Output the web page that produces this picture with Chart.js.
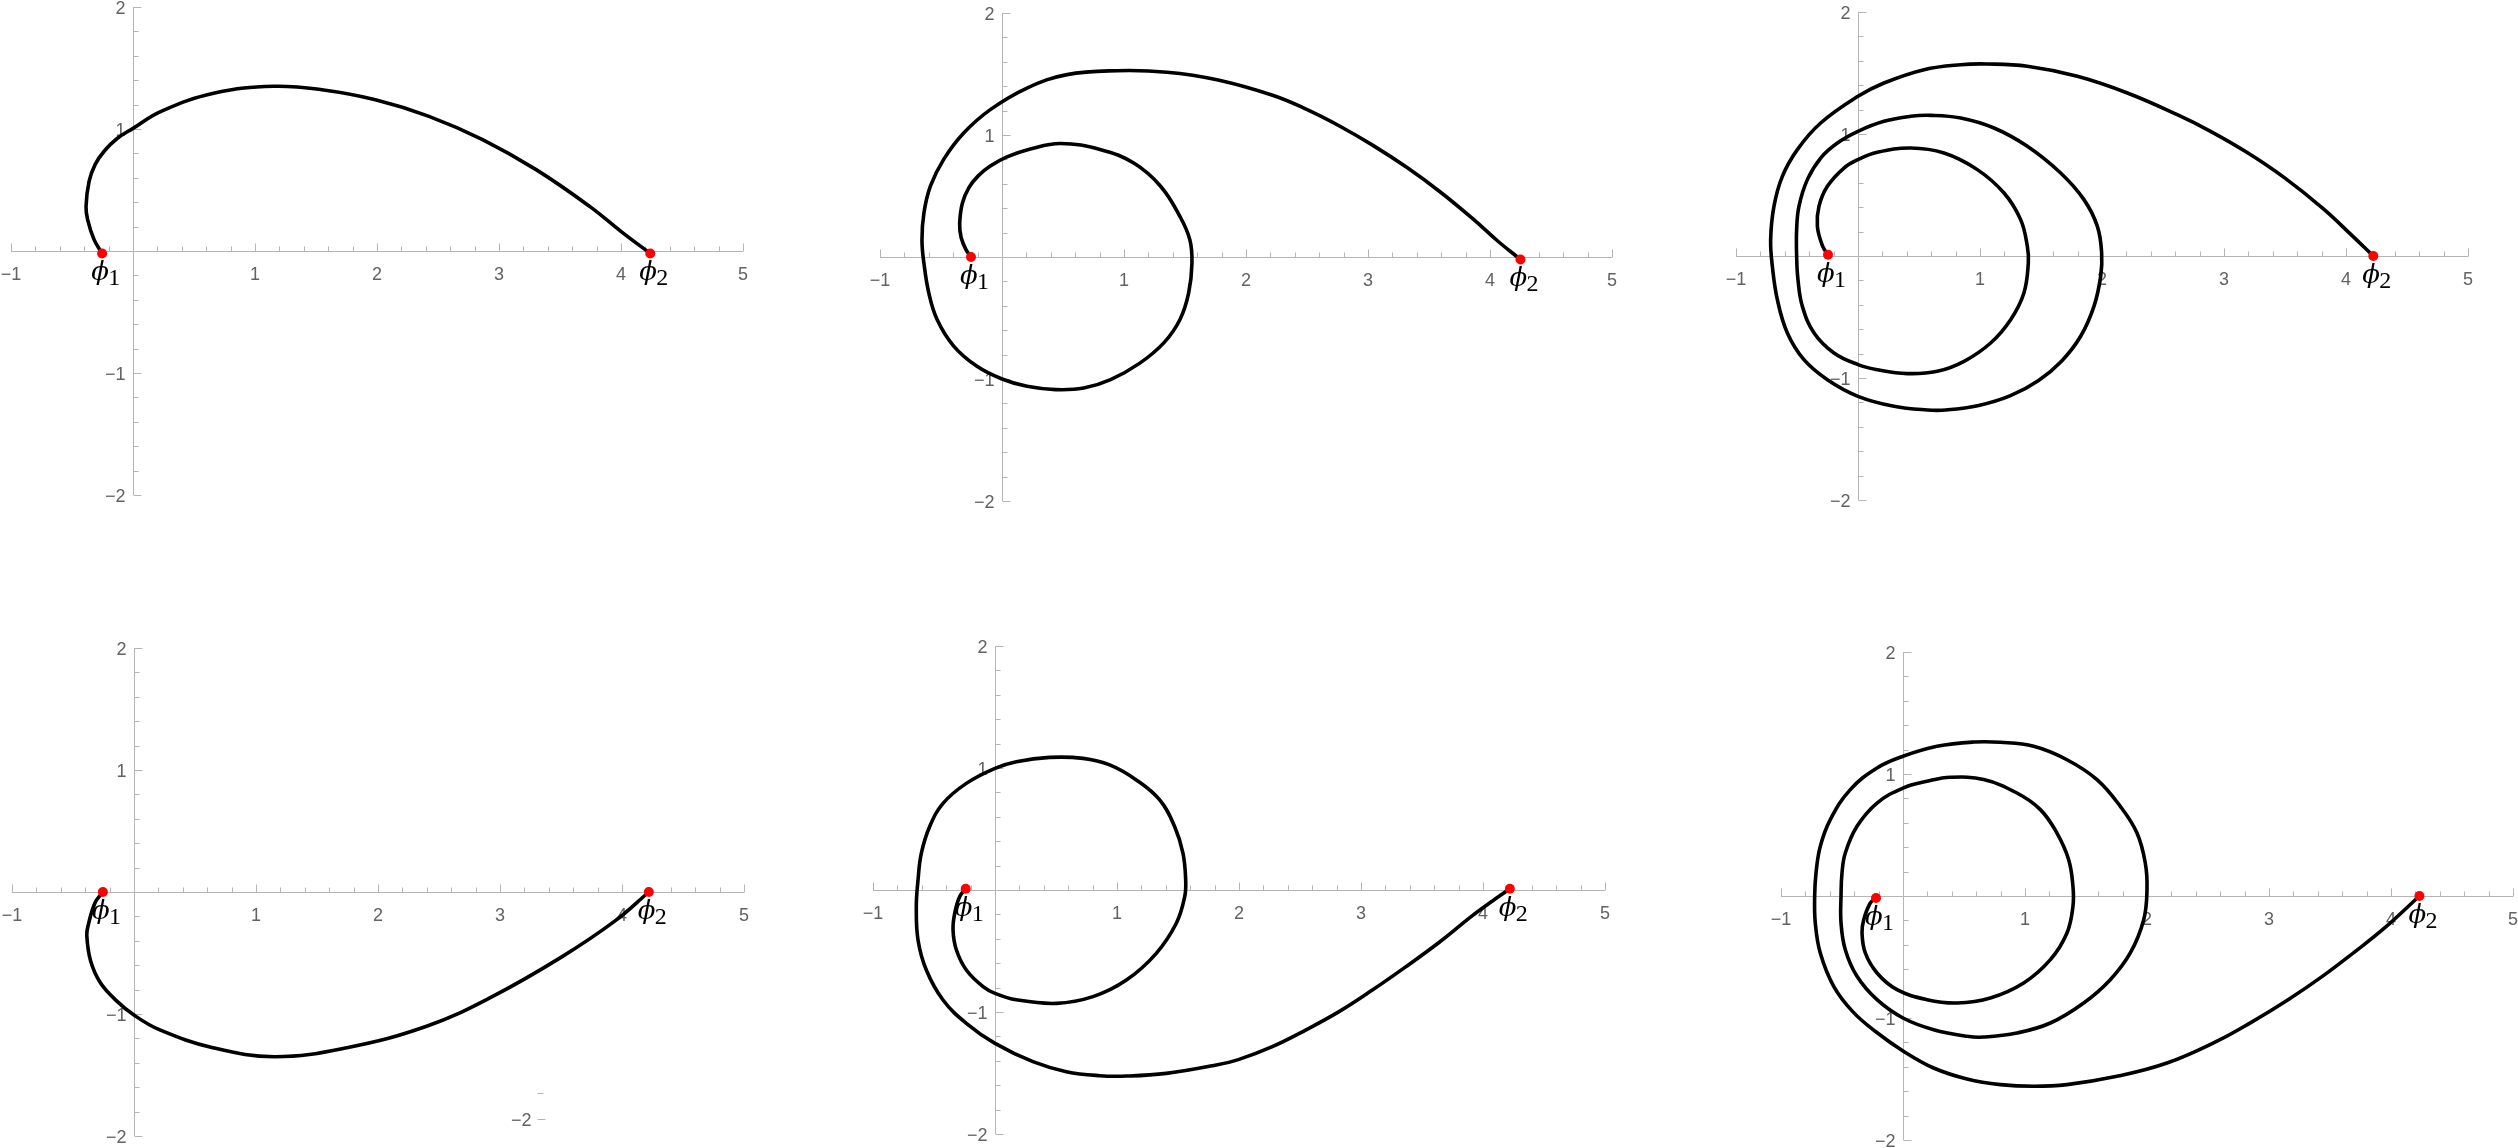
<!DOCTYPE html>
<html>
<head>
<meta charset="utf-8">
<script src="https://cdn.jsdelivr.net/npm/chart.js@4.4.0/dist/chart.umd.min.js"></script>
<style>
  html, body { margin: 0; padding: 0; background: #fff; width: 2518px; height: 1148px; overflow: hidden; position: relative; }
  canvas { position: absolute; }
</style>
</head>
<body>
<script>
// axis ranges and ticks (same in every panel)
const xRange = [-1, 5];
const yRange = [-2, 2];
const xTickValues = [-1, 1, 2, 3, 4, 5];
const xTickLabels = ['\u22121', '1', '2', '3', '4', '5'];
const yTickValues = [-2, -1, 1, 2];
const yTickLabels = ['\u22122', '\u22121', '1', '2'];
const minorStep = 0.2;

// curves, from phi1 to phi2
const p1X = [-0.253, -0.319, -0.372, -0.385, -0.36, -0.31, -0.235, -0.13, 0, 0.23, 0.67, 1.153, 1.548, 1.987, 2.426, 2.865, 3.304, 3.743, 4.007, 4.24];
const p1Y = [-0.02, 0.093, 0.257, 0.366, 0.57, 0.71, 0.82, 0.922, 1.005, 1.145, 1.295, 1.35, 1.322, 1.24, 1.104, 0.913, 0.667, 0.366, 0.155, -0.02];

const p2X = [-0.254, -0.295, -0.335, -0.347, -0.325, -0.27, -0.195, -0.096, 0.041, 0.232, 0.48, 0.81, 1.08, 1.30, 1.46, 1.54, 1.557, 1.53, 1.46, 1.33, 1.13, 0.89, 0.67, 0.44, 0.205, 0, -0.205, -0.396, -0.533, -0.60, -0.64, -0.656, -0.64, -0.587, -0.478, -0.314, -0.096, 0.205, 0.533, 0.943, 1.352, 1.762, 2.224, 2.497, 2.77, 3.044, 3.317, 3.59, 3.863, 4.07, 4.25];
const p2Y = [0, 0.06, 0.16, 0.27, 0.44, 0.57, 0.665, 0.745, 0.82, 0.885, 0.93, 0.88, 0.77, 0.58, 0.33, 0.14, -0.05, -0.295, -0.51, -0.70, -0.87, -1.005, -1.074, -1.087, -1.06, -1.0, -0.896, -0.73, -0.51, -0.295, -0.05, 0.14, 0.36, 0.58, 0.80, 1.016, 1.208, 1.385, 1.495, 1.527, 1.515, 1.453, 1.324, 1.21, 1.072, 0.913, 0.735, 0.535, 0.31, 0.125, -0.02];

const p3X = [-0.246, -0.29, -0.333, -0.32, -0.251, -0.115, 0, 0.158, 0.432, 0.705, 0.978, 1.197, 1.333, 1.388, 1.396, 1.36, 1.251, 1.087, 0.869, 0.65, 0.404, 0.158, 0, -0.197, -0.36, -0.456, -0.492, -0.503, -0.503, -0.484, -0.415, -0.306, -0.169, 0, 0.213, 0.432, 0.596, 0.842, 1.115, 1.388, 1.661, 1.852, 1.962, 1.997, 1.989, 1.934, 1.825, 1.67, 1.48, 1.25, 0.99, 0.72, 0.568, 0.295, 0, -0.251, -0.443, -0.579, -0.661, -0.702, -0.716, -0.689, -0.62, -0.497, -0.306, 0, 0.213, 0.541, 0.842, 1.06, 1.388, 1.798, 2.208, 2.617, 2.89, 3.2, 3.5, 3.815, 4.05, 4.224];
const p3Y = [0.01, 0.08, 0.243, 0.407, 0.571, 0.721, 0.79, 0.85, 0.885, 0.844, 0.708, 0.516, 0.298, 0.08, -0.057, -0.303, -0.522, -0.713, -0.863, -0.945, -0.964, -0.932, -0.89, -0.795, -0.631, -0.413, -0.194, 0, 0.216, 0.407, 0.626, 0.803, 0.926, 1.022, 1.104, 1.145, 1.153, 1.131, 1.049, 0.899, 0.68, 0.462, 0.243, 0.025, -0.167, -0.413, -0.658, -0.86, -1.02, -1.145, -1.225, -1.262, -1.262, -1.232, -1.15, -1.014, -0.85, -0.631, -0.358, -0.085, 0.134, 0.407, 0.653, 0.872, 1.09, 1.309, 1.418, 1.527, 1.568, 1.574, 1.555, 1.473, 1.336, 1.158, 1.022, 0.842, 0.638, 0.386, 0.167, 0];

const p4X = [-0.255, -0.32, -0.374, -0.387, -0.356, -0.277, -0.145, 0, 0.207, 0.646, 1.152, 1.745, 2.404, 2.932, 3.503, 3.943, 4.22];
const p4Y = [0, -0.09, -0.267, -0.356, -0.564, -0.742, -0.89, -1.009, -1.128, -1.276, -1.35, -1.276, -1.098, -0.86, -0.534, -0.237, 0];

const p5X = [-0.24, -0.29, -0.33, -0.344, -0.317, -0.235, -0.098, 0, 0.175, 0.503, 0.803, 1.077, 1.322, 1.486, 1.555, 1.563, 1.541, 1.473, 1.35, 1.158, 0.94, 0.721, 0.448, 0.175, 0, -0.235, -0.426, -0.536, -0.604, -0.631, -0.645, -0.631, -0.563, -0.426, -0.235, 0, 0.311, 0.585, 0.858, 1.077, 1.404, 1.814, 2.0, 2.273, 2.546, 2.82, 3.093, 3.366, 3.639, 3.913, 4.077, 4.22];
const p5Y = [0.01, -0.055, -0.19, -0.328, -0.49, -0.656, -0.792, -0.847, -0.90, -0.929, -0.874, -0.738, -0.519, -0.273, -0.055, 0.082, 0.30, 0.519, 0.738, 0.902, 1.025, 1.079, 1.087, 1.052, 0.997, 0.874, 0.71, 0.519, 0.30, 0.082, -0.137, -0.41, -0.656, -0.902, -1.093, -1.257, -1.407, -1.489, -1.522, -1.525, -1.503, -1.434, -1.388, -1.284, -1.148, -0.997, -0.82, -0.63, -0.43, -0.21, -0.09, 0.01];

const p6X = [-0.221, -0.268, -0.322, -0.336, -0.309, -0.213, -0.049, 0.197, 0.443, 0.716, 0.989, 1.208, 1.344, 1.393, 1.393, 1.358, 1.262, 1.126, 0.934, 0.661, 0.388, 0.197, 0, -0.213, -0.377, -0.473, -0.5, -0.508, -0.508, -0.473, -0.377, -0.213, 0, 0.251, 0.525, 0.661, 0.934, 1.208, 1.481, 1.699, 1.863, 1.973, 2.0, 1.986, 1.918, 1.781, 1.59, 1.344, 1.071, 0.798, 0.579, 0.279, 0, -0.213, -0.432, -0.596, -0.678, -0.713, -0.724, -0.719, -0.678, -0.568, -0.41, -0.22, 0, 0.251, 0.525, 0.798, 1.071, 1.344, 1.754, 2.164, 2.574, 2.847, 3.15, 3.443, 3.7, 3.95, 4.233];
const p6Y = [-0.016, -0.057, -0.194, -0.303, -0.467, -0.631, -0.768, -0.85, -0.877, -0.836, -0.713, -0.522, -0.303, -0.085, 0.079, 0.298, 0.516, 0.708, 0.844, 0.954, 0.973, 0.94, 0.885, 0.762, 0.571, 0.352, 0.189, 0, -0.221, -0.44, -0.658, -0.85, -1.0, -1.096, -1.15, -1.156, -1.123, -1.041, -0.877, -0.686, -0.467, -0.194, 0.052, 0.27, 0.516, 0.735, 0.954, 1.117, 1.227, 1.26, 1.262, 1.227, 1.145, 1.049, 0.872, 0.626, 0.407, 0.189, 0, -0.221, -0.467, -0.74, -0.95, -1.115, -1.27, -1.41, -1.50, -1.546, -1.56, -1.546, -1.478, -1.369, -1.19, -1.04, -0.855, -0.655, -0.46, -0.26, 0];

// red end points
const phi1X = [-0.253, -0.254, -0.246, -0.255, -0.24, -0.221];
const phi1Y = [-0.02, 0, 0.01, 0, 0.01, -0.016];
const phi2X = [4.24, 4.25, 4.224, 4.22, 4.22, 4.233];
const phi2Y = [-0.02, -0.02, 0, 0, 0.01, 0];

// stray tick fragment seen in the lower-left panel
const strayX = 3.3;
const strayTicks = [-1.651, -1.864];
const strayLabel = '\u22122';

const curvesX = [p1X, p2X, p3X, p4X, p5X, p6X];
const curvesY = [p1Y, p2Y, p3Y, p4Y, p5Y, p6Y];

// where the (-1, 2) corner of each plot sits on the page
const panelLeft = [11, 880, 1736, 12, 873, 1781];
const panelTop = [7, 13, 12, 648, 646, 652];
const unit = 122;
const pad = {left: 40, right: 30, top: 20, bottom: 20};

const axisColor = '#b5b5b5';
const labelColor = '#626262';

function pts(xs, ys) {
  const n = Math.min(xs.length, ys.length);
  const out = [];
  for (let i = 0; i < n; i++) out.push({x: xs[i], y: ys[i]});
  return out;
}

function mmaAxes(idx) {
  return {
    id: 'mmaAxes' + idx,
    beforeDatasetsDraw(chart) {
      const {ctx, scales: {x, y}} = chart;
      const ox = Math.round(x.getPixelForValue(0)) + 0.5;
      const oy = Math.round(y.getPixelForValue(0)) + 0.5;
      ctx.save();
      ctx.strokeStyle = axisColor;
      ctx.lineWidth = 1;
      ctx.beginPath();
      ctx.moveTo(x.getPixelForValue(xRange[0]), oy);
      ctx.lineTo(x.getPixelForValue(xRange[1]), oy);
      ctx.moveTo(ox, y.getPixelForValue(yRange[0]));
      ctx.lineTo(ox, y.getPixelForValue(yRange[1]));
      const nx = Math.round((xRange[1] - xRange[0]) / minorStep);
      for (let i = 0; i <= nx; i++) {
        const v = xRange[0] + i * minorStep;
        const major = Math.abs(v - Math.round(v)) < 1e-6;
        const px = Math.round(x.getPixelForValue(v)) + 0.5;
        ctx.moveTo(px, oy);
        ctx.lineTo(px, oy - (major ? 8 : 5));
      }
      const ny = Math.round((yRange[1] - yRange[0]) / minorStep);
      for (let i = 0; i <= ny; i++) {
        const v = yRange[0] + i * minorStep;
        const major = Math.abs(v - Math.round(v)) < 1e-6;
        const py = Math.round(y.getPixelForValue(v)) + 0.5;
        ctx.moveTo(ox, py);
        ctx.lineTo(ox + (major ? 8 : 5), py);
      }
      if (idx === 3) {
        const sx = Math.round(x.getPixelForValue(strayX)) + 0.5;
        strayTicks.forEach((v, i) => {
          const py = Math.round(y.getPixelForValue(v)) + 0.5;
          ctx.moveTo(sx, py);
          ctx.lineTo(sx + (i === 1 ? 8 : 6), py);
        });
      }
      ctx.stroke();

      ctx.fillStyle = labelColor;
      ctx.font = '18px "Liberation Sans", Arial, sans-serif';
      ctx.textBaseline = 'alphabetic';
      ctx.textAlign = 'center';
      xTickValues.forEach((v, i) => ctx.fillText(xTickLabels[i], x.getPixelForValue(v), oy + 28));
      ctx.textAlign = 'right';
      yTickValues.forEach((v, i) => ctx.fillText(yTickLabels[i], ox - 8, y.getPixelForValue(v) + 6.5));
      if (idx === 3) {
        ctx.fillText(strayLabel, x.getPixelForValue(strayX) - 5, y.getPixelForValue(strayTicks[1]) + 6.5);
      }
      ctx.restore();
    },
    afterDatasetsDraw(chart) {
      const {ctx, scales: {x, y}} = chart;
      const marks = [[phi1X[idx], phi1Y[idx], '1'], [phi2X[idx], phi2Y[idx], '2']];
      ctx.save();
      ctx.fillStyle = '#000';
      ctx.textAlign = 'left';
      ctx.textBaseline = 'alphabetic';
      marks.forEach(([vx, vy, sub]) => {
        const px = x.getPixelForValue(vx);
        const py = y.getPixelForValue(vy);
        ctx.font = 'italic 26px "DejaVu Serif", "Liberation Serif", serif';
        ctx.fillText('\u03D5', px - 11, py + 27);
        ctx.font = '24px "Liberation Serif", "DejaVu Serif", serif';
        ctx.fillText(sub, px + 6, py + 32);
      });
      ctx.restore();
    }
  };
}

for (let i = 0; i < 6; i++) {
  const canvas = document.createElement('canvas');
  const w = xRange[1] - xRange[0];
  const h = yRange[1] - yRange[0];
  canvas.width = w * unit + pad.left + pad.right;
  canvas.height = h * unit + pad.top + pad.bottom;
  canvas.style.left = (panelLeft[i] - pad.left) + 'px';
  canvas.style.top = (panelTop[i] - pad.top) + 'px';
  document.body.appendChild(canvas);

  new Chart(canvas.getContext('2d'), {
    type: 'scatter',
    data: {
      datasets: [
        {
          data: pts(curvesX[i], curvesY[i]),
          showLine: true,
          borderColor: '#000',
          borderWidth: 3.6,
          pointRadius: 0,
          tension: 0.4,
          fill: false,
          order: 2
        },
        {
          data: [{x: phi1X[i], y: phi1Y[i]}, {x: phi2X[i], y: phi2Y[i]}],
          showLine: false,
          pointRadius: 5,
          backgroundColor: '#ff0000',
          borderWidth: 0,
          order: 1
        }
      ]
    },
    options: {
      responsive: false,
      animation: false,
      events: [],
      layout: {padding: pad},
      plugins: {legend: {display: false}, tooltip: {enabled: false}},
      scales: {
        x: {type: 'linear', min: xRange[0], max: xRange[1], display: false},
        y: {type: 'linear', min: yRange[0], max: yRange[1], display: false}
      }
    },
    plugins: [mmaAxes(i)]
  });
}
</script>
</body>
</html>
